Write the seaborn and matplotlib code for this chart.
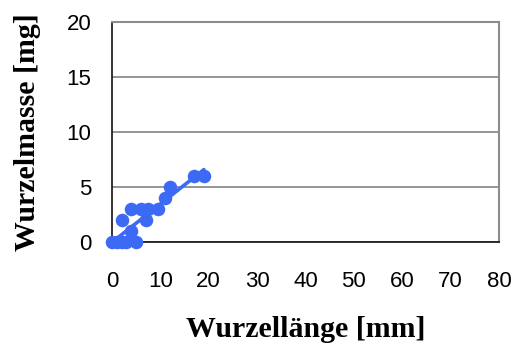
import matplotlib
matplotlib.use("Agg")
import matplotlib.pyplot as plt
import seaborn as sns
import pandas as pd

# Root length (mm) and root mass (mg) per seedling
wurzellaenge = [0, 1, 2, 3, 5, 2, 4, 4, 6, 7.5, 9.5, 7, 11, 12, 17, 19]
wurzelmasse = [0, 0, 0, 0, 0, 2, 1, 3, 3, 3, 3, 2, 4, 5, 6, 6]

x_ticks = [0, 10, 20, 30, 40, 50, 60, 70, 80]
y_ticks = [0, 5, 10, 15, 20]

df = pd.DataFrame({"Wurzellänge": wurzellaenge, "Wurzelmasse": wurzelmasse})

sns.set_style("white")
plt.rcParams["font.family"] = ["Liberation Sans", "DejaVu Sans"]

fig = plt.figure(figsize=(5.17, 3.54), dpi=100)
ax = fig.add_axes([0.2166, 0.316, 0.7485, 0.622])

blue = "#3d6af5"
sns.regplot(data=df, x="Wurzellänge", y="Wurzelmasse", ax=ax, ci=None,
            truncate=True, color=blue,
            scatter_kws=dict(s=95, linewidths=0, alpha=1, zorder=3, clip_on=False),
            line_kws=dict(lw=2.6, zorder=4))

ax.set_xlim(0, 80)
ax.set_ylim(0, 20)
ax.set_xticks(x_ticks)
ax.set_yticks(y_ticks)
ax.yaxis.grid(True, color="#8c8c8c", lw=1.3)
ax.set_axisbelow(True)

for side in ("left", "bottom"):
    ax.spines[side].set_color("#111111")
    ax.spines[side].set_linewidth(1.2)
for side in ("right", "top"):
    ax.spines[side].set_color("#8c8c8c")
    ax.spines[side].set_linewidth(1.5)

ax.tick_params(axis="both", which="major", direction="out", length=5, width=1,
               color="#111111", labelcolor="black", labelsize=16)
ax.tick_params(axis="x", pad=16)
ax.tick_params(axis="y", pad=10)

label_font = dict(family=["Liberation Serif", "DejaVu Serif"], weight="bold",
                  size=21.5, color="black")
ax.set_xlabel("Wurzellänge [mm]", labelpad=17, **label_font)
ax.set_ylabel("Wurzelmasse [mg]", labelpad=18, **label_font)

fig.savefig("out.png", dpi=100)
